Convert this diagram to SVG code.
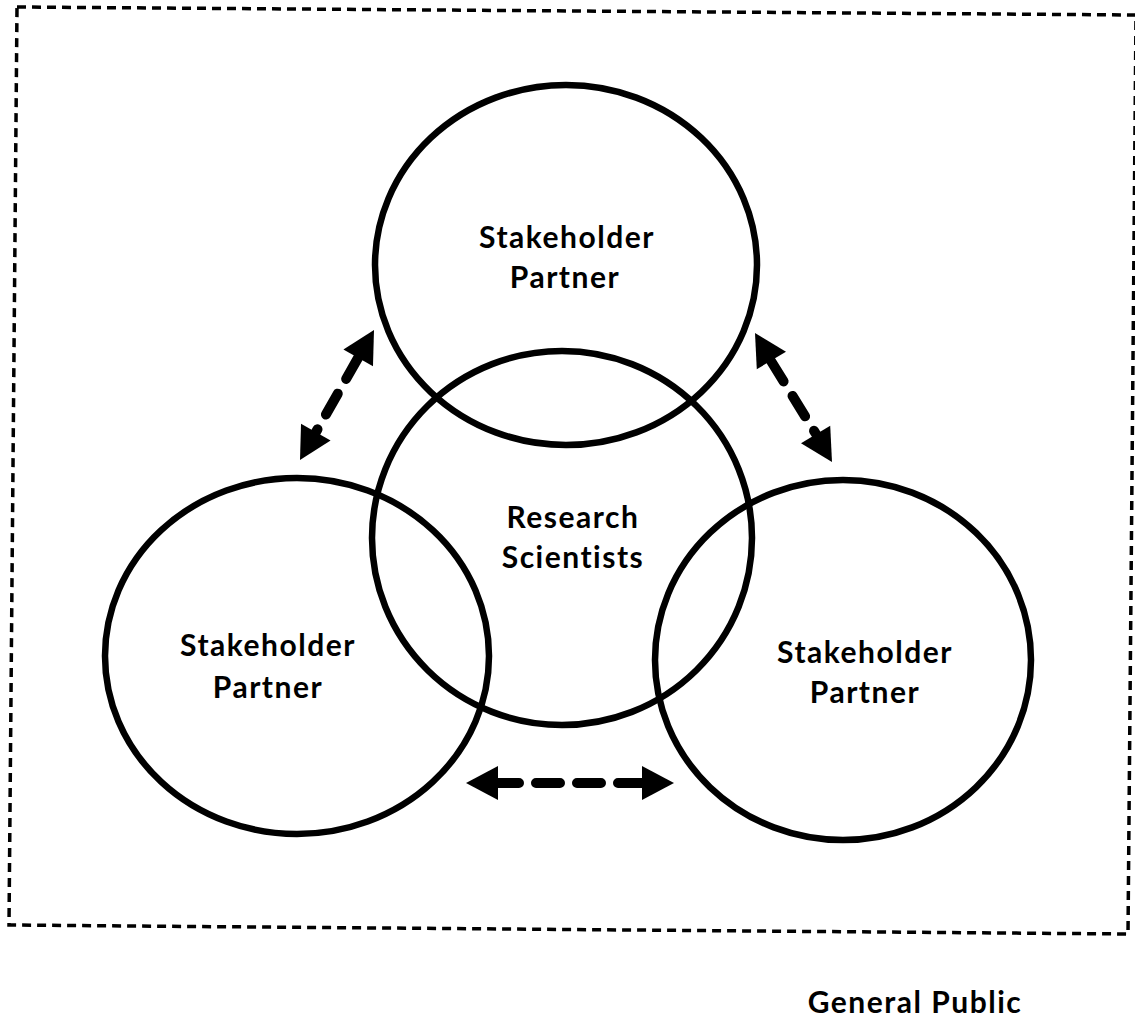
<svg xmlns="http://www.w3.org/2000/svg" width="1135" height="1020" viewBox="0 0 1135 1020">
<style>
.c{fill:none;stroke:#000;stroke-width:6.5}
.t{font-family:"Comic Sans MS","Lato","DejaVu Sans",sans-serif;font-weight:bold;font-size:30px;letter-spacing:1.5px;fill:#000;text-anchor:middle}
.d{stroke:#000;stroke-width:10;stroke-linecap:round;stroke-dasharray:24 17;fill:none}
.b{fill:none;stroke:#000;stroke-width:3.5;stroke-dasharray:9 6}
</style>
<defs>
<path id="head" d="M0,0 L-32,-17 L-32,17 Z" fill="#000"/>
</defs>
<rect width="1135" height="1020" fill="#fff"/>
<polygon class="b" points="17,7 1136,15 1128,934 9,925"/>
<g id="top-partner"><ellipse class="c" cx="566" cy="265" rx="191" ry="180"/>
<text class="t" x="567" y="248">Stakeholder</text><text class="t" x="565" y="288">Partner</text></g>
<g id="research"><ellipse class="c" cx="562" cy="538" rx="190" ry="187"/>
<text class="t" x="573" y="528">Research</text><text class="t" x="573" y="568">Scientists</text></g>
<g id="left-partner"><ellipse class="c" cx="297" cy="656" rx="192" ry="178"/>
<text class="t" x="268" y="656">Stakeholder</text><text class="t" x="268" y="698">Partner</text></g>
<g id="right-partner"><ellipse class="c" cx="843" cy="660" rx="188" ry="180"/>
<text class="t" x="865" y="663">Stakeholder</text><text class="t" x="865" y="703">Partner</text></g>
<g id="general-public"><text class="t" x="915" y="1013">General Public</text></g>
<g id="connectors">
<line class="d" x1="358" y1="358" x2="316" y2="432"/>
<use href="#head" transform="translate(374,330) rotate(-60.4)"/>
<use href="#head" transform="translate(300,460) rotate(119.6)"/>
<line class="d" x1="771" y1="361" x2="816" y2="434"/>
<use href="#head" transform="translate(755,333) rotate(-120.8)"/>
<use href="#head" transform="translate(832,462) rotate(59.2)"/>
<line class="d" x1="495" y1="783" x2="643" y2="783"/>
<use href="#head" transform="translate(466,783) rotate(180)"/>
<use href="#head" transform="translate(674,783)"/>
</g>
</svg>
